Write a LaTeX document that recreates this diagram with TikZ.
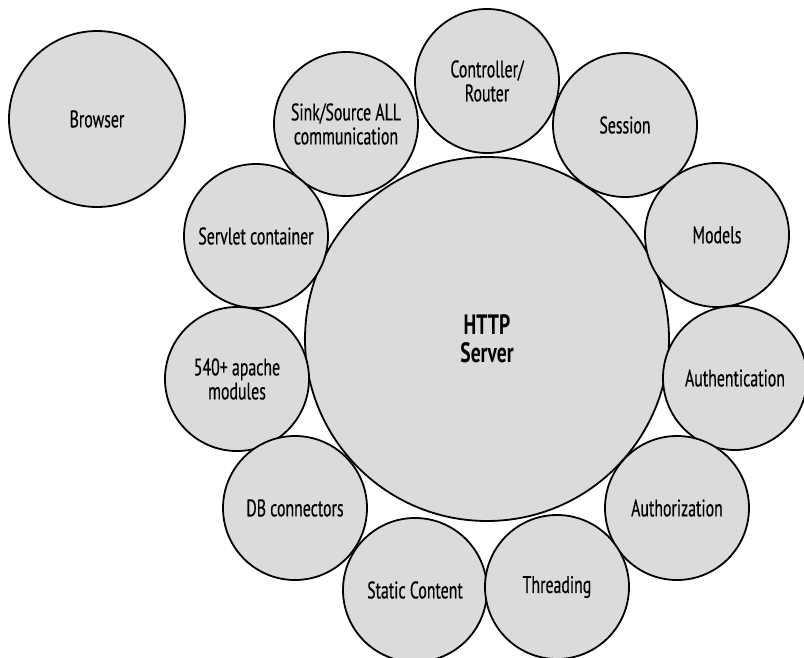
\documentclass[tikz,border=0pt]{standalone}
\usepackage{fontspec}
\setmainfont{PT Sans}[FakeStretch=0.66]
\newfontfamily\labelfont{PT Sans}[FakeStretch=0.66,FakeBold=0.4]
\newfontfamily\titlefont{PT Sans}[FakeStretch=0.70]
\begin{document}
\begin{tikzpicture}[x=1pt,y=-1pt,
  bub/.style={circle,draw=black,line width=1.8pt,fill=black!14,inner sep=0pt,
    minimum size=144pt,align=center,font=\labelfont\fontsize{24}{24}\selectfont},
  bigbub/.style={bub,minimum size=364pt,font=\titlefont\bfseries\fontsize{28}{28}\selectfont}]
\useasboundingbox (0,0) rectangle (804,657);
\node[bub,minimum size=176pt] (browser) at (97,119) {Browser};
\node[bigbub] (http) at (487,339) {HTTP\\Server};
\node[bub] (ctrl) at (487,81) {Controller/\\Router};
\node[bub] (sink) at (346,124) {Sink/Source ALL\\communication};
\node[bub] (session) at (625,125) {Session};
\node[bub] (servlet) at (256,236) {Servlet container};
\node[bub] (models) at (717,235) {Models};
\node[bub] (apache) at (237,379) {540+ apache\\modules};
\node[bub] (authn) at (735,378) {Authentication};
\node[bub] (db) at (295,508) {DB connectors};
\node[bub] (authz) at (677,508) {Authorization};
\node[bub] (static) at (415,590) {Static Content};
\node[bub] (thread) at (557,587) {Threading};
\end{tikzpicture}
\end{document}
